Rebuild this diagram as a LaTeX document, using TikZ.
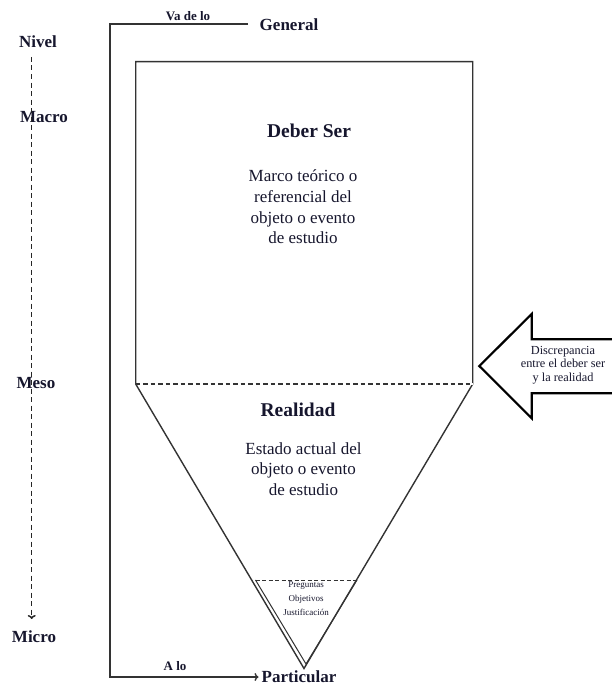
\documentclass[tikz,border=0pt]{standalone}
\usepackage{fontspec}
\setmainfont{Liberation Serif}
\usetikzlibrary{arrows.meta}
\definecolor{ink}{RGB}{22,22,45}
\begin{document}
\begin{tikzpicture}[x=1pt,y=-1pt,
  line/.style={draw=black!80,line width=1.4pt},
  lbl/.style={text=ink,inner sep=0pt,font=\bfseries\fontsize{17}{20}\selectfont},
  small/.style={text=ink,inner sep=0pt,font=\bfseries\fontsize{13}{15}\selectfont},
  title/.style={text=ink,inner sep=0pt,font=\bfseries\fontsize{19.5}{23}\selectfont},
  body/.style={text=ink,inner sep=0pt,align=center,font=\fontsize{17}{20.6}\selectfont},
  arrtxt/.style={text=ink,inner sep=0pt,align=center,font=\fontsize{12.3}{13.4}\selectfont},
  tiny/.style={text=ink,inner sep=0pt,align=center,font=\fontsize{9}{14.3}\selectfont}]
\useasboundingbox (0,0) rectangle (612,685);
% left level scale
\node[lbl] (nivel) at (38,42) {Nivel};
\node[lbl] (macro) at (44,117) {Macro};
\node[lbl] (meso) at (36,383) {Meso};
\node[lbl] (micro) at (34,637) {Micro};
\coordinate (sTop) at (31.7,57);
\coordinate (sBot) at (31.7,619);
\draw[line,line width=1.5pt,draw=black!85,dash pattern=on 5pt off 3.5pt,-{To[length=4pt,width=8pt]}] (sTop) -- (sBot);
% bracket
\node[small] (vadelo) at (188,16) {Va de lo};
\node[lbl] (general) at (289,25) {General};
\node[small] (alo) at (175,666) {A lo};
\node[lbl] (particular) at (299,676.5) {Particular};
\coordinate (bTop) at (248,24);
\coordinate (bTL) at (110,24);
\coordinate (bBL) at (110,677);
\draw[line,-{To[length=4pt,width=8pt]}] (bTop) -- (bTL) -- (bBL) -- ([xshift=-3pt]particular.west|-bBL);
% funnel
\coordinate (rTL) at (135.7,61.7);
\coordinate (rTR) at (472.7,61.7);
\coordinate (rBL) at (135.7,384);
\coordinate (rBR) at (472.7,384);
\coordinate (apex) at (304,668.5);
\draw[line] (rBL) -- (rTL) -- (rTR) -- (rBR) -- (apex) -- cycle;
\draw[draw=white,line width=1.8pt] (rBL) -- (rBR);
\draw[line,dash pattern=on 4.5pt off 3pt] (rBL) -- (rBR);
% inner triangle
\coordinate (iL) at (255.5,580);
\coordinate (iR) at (357,580);
\coordinate (iA) at (306,664);
\draw[line,line width=1pt] (iL) -- (iA) -- (iR);
\draw[line,line width=1pt,dash pattern=on 4pt off 2.5pt] (iL) -- (iR);
\node[tiny] (preg) at (306,598.5) {Preguntas\\Objetivos\\Justificación};
% texts
\node[title] (deber) at (309,131) {Deber Ser};
\node[body] (marco) at (303,207) {Marco teórico o\\referencial del\\objeto o evento\\de estudio};
\node[title] (realidad) at (298,410) {Realidad};
\node[body] (estado) at (303.5,469) {Estado actual del\\objeto o evento\\de estudio};
% discrepancy arrow
\coordinate (aT1) at (614,339.3);
\coordinate (aT2) at (531.7,339.3);
\coordinate (aT3) at (531.7,314);
\coordinate (aTip) at (479.3,366);
\coordinate (aB3) at (531.7,418.3);
\coordinate (aB2) at (531.7,393.3);
\coordinate (aB1) at (614,393.3);
\draw[draw=black,line width=2.2pt,line join=miter] (aT1) -- (aT2) -- (aT3) -- (aTip) -- (aB3) -- (aB2) -- (aB1);
\node[arrtxt] (disc) at (563,365) {Discrepancia\\entre el deber ser\\y la realidad};
\end{tikzpicture}
\end{document}
